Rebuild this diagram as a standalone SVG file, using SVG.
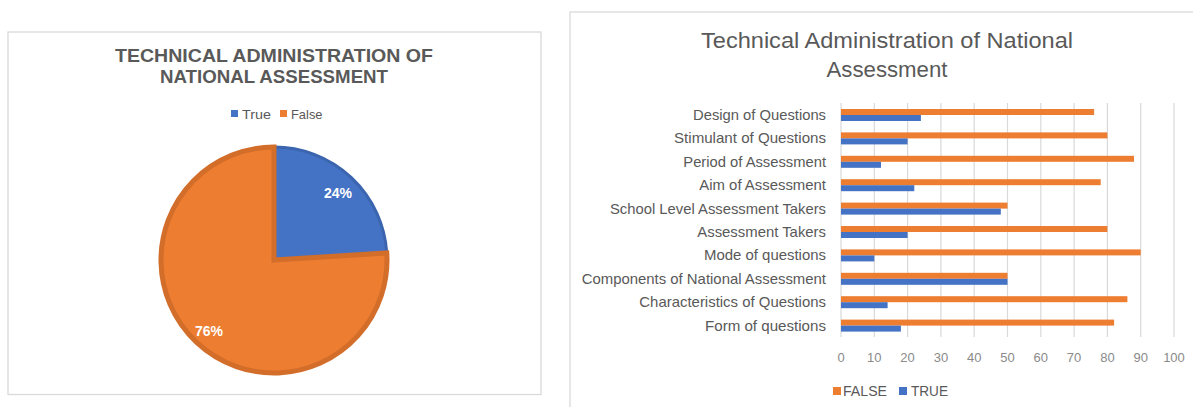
<svg xmlns="http://www.w3.org/2000/svg" width="1193" height="407" viewBox="0 0 1193 407">
<style>
  .frame { fill: #ffffff; stroke: #d9d9d9; stroke-width: 1.3; }
  .ttl { font-family: "Liberation Sans", Arial, sans-serif; fill: #595959; }
  .ttlb { font-family: "Liberation Sans", Arial, sans-serif; font-weight: bold; fill: #595959; font-size: 18px; }
  .lbl { font-family: "Liberation Sans", Arial, sans-serif; fill: #595959; font-size: 14.5px; text-anchor: end; }
  .tick { font-family: "Liberation Sans", Arial, sans-serif; fill: #8a8a8a; font-size: 13px; text-anchor: middle; }
  .leg { font-family: "Liberation Sans", Arial, sans-serif; fill: #595959; }
  .pct { font-family: "Liberation Sans", Arial, sans-serif; font-weight: bold; fill: #ffffff; font-size: 14px; text-anchor: middle; }
  .grid { stroke: #d9d9d9; stroke-width: 1.2; }
  .f { fill: #ED7D31; }
  .t { fill: #4472C4; }
</style>
<rect width="1193" height="407" fill="#ffffff"/>

<g id="pie-chart">
  <rect class="frame" x="8" y="32" width="533" height="362.5"/>
  <text class="ttlb" x="274" y="62" text-anchor="middle" textLength="318" lengthAdjust="spacingAndGlyphs">TECHNICAL ADMINISTRATION OF</text>
  <text class="ttlb" x="274" y="83" text-anchor="middle" textLength="228" lengthAdjust="spacingAndGlyphs">NATIONAL ASSESSMENT</text>
  <g id="pie-legend">
    <rect class="t" x="231" y="110" width="7" height="7"/>
    <text class="leg" x="242" y="118.5" font-size="13.5" textLength="29" lengthAdjust="spacingAndGlyphs">True</text>
    <rect class="f" x="280" y="110" width="7" height="7"/>
    <text class="leg" x="291" y="118.5" font-size="13.5" textLength="31.5" lengthAdjust="spacingAndGlyphs">False</text>
  </g>
  <g id="slice-true">
    <path class="t" d="M274,260 L274,147 A113,113 0 0 1 386.78,252.91 Z" stroke="#3B65AE" stroke-width="3" stroke-linejoin="miter"/>
    <text class="pct" x="338" y="198">24%</text>
  </g>
  <g id="slice-false">
    <path class="f" d="M274,260 L386.78,252.91 A113,113 0 1 1 274,147 Z" stroke="#D26D2A" stroke-width="5" stroke-linejoin="miter"/>
    <text class="pct" x="209" y="336">76%</text>
  </g>
</g>

<g id="bar-chart">
  <rect class="frame" x="570" y="12" width="640" height="420"/>
  <text class="ttl" x="887" y="48" font-size="22" text-anchor="middle" textLength="372" lengthAdjust="spacingAndGlyphs">Technical Administration of National</text>
  <text class="ttl" x="887" y="77" font-size="22" text-anchor="middle" textLength="121" lengthAdjust="spacingAndGlyphs">Assessment</text>

  <g id="gridlines">
    <line class="grid" x1="841" y1="103" x2="841" y2="337"/>
    <line class="grid" x1="874.3" y1="103" x2="874.3" y2="337"/>
    <line class="grid" x1="907.6" y1="103" x2="907.6" y2="337"/>
    <line class="grid" x1="940.9" y1="103" x2="940.9" y2="337"/>
    <line class="grid" x1="974.2" y1="103" x2="974.2" y2="337"/>
    <line class="grid" x1="1007.5" y1="103" x2="1007.5" y2="337"/>
    <line class="grid" x1="1040.8" y1="103" x2="1040.8" y2="337"/>
    <line class="grid" x1="1074.1" y1="103" x2="1074.1" y2="337"/>
    <line class="grid" x1="1107.4" y1="103" x2="1107.4" y2="337"/>
    <line class="grid" x1="1140.7" y1="103" x2="1140.7" y2="337"/>
    <line class="grid" x1="1174" y1="103" x2="1174" y2="337"/>
  </g>

  <g id="tick-labels">
    <text class="tick" x="841" y="362">0</text>
    <text class="tick" x="874.3" y="362">10</text>
    <text class="tick" x="907.6" y="362">20</text>
    <text class="tick" x="940.9" y="362">30</text>
    <text class="tick" x="974.2" y="362">40</text>
    <text class="tick" x="1007.5" y="362">50</text>
    <text class="tick" x="1040.8" y="362">60</text>
    <text class="tick" x="1074.1" y="362">70</text>
    <text class="tick" x="1107.4" y="362">80</text>
    <text class="tick" x="1140.7" y="362">90</text>
    <text class="tick" x="1174" y="362">100</text>
  </g>

  <g id="category-labels">
    <text class="lbl" x="826" y="120" textLength="133" lengthAdjust="spacingAndGlyphs">Design of Questions</text>
    <text class="lbl" x="826" y="143.4" textLength="152" lengthAdjust="spacingAndGlyphs">Stimulant of Questions</text>
    <text class="lbl" x="826" y="166.8" textLength="142.7" lengthAdjust="spacingAndGlyphs">Period of Assessment</text>
    <text class="lbl" x="826" y="190.2" textLength="126.7" lengthAdjust="spacingAndGlyphs">Aim of Assessment</text>
    <text class="lbl" x="826" y="213.6" textLength="216" lengthAdjust="spacingAndGlyphs">School Level Assessment Takers</text>
    <text class="lbl" x="826" y="237" textLength="128.7" lengthAdjust="spacingAndGlyphs">Assessment Takers</text>
    <text class="lbl" x="826" y="260.4" textLength="122" lengthAdjust="spacingAndGlyphs">Mode of questions</text>
    <text class="lbl" x="826" y="283.8" textLength="244.3" lengthAdjust="spacingAndGlyphs">Components of National Assessment</text>
    <text class="lbl" x="826" y="307.2" textLength="186.7" lengthAdjust="spacingAndGlyphs">Characteristics of Questions</text>
    <text class="lbl" x="826" y="330.6" textLength="121" lengthAdjust="spacingAndGlyphs">Form of questions</text>
  </g>

  <g id="bars-false">
    <rect class="f" x="841" y="109" width="253.1" height="6"/>
    <rect class="f" x="841" y="132.4" width="266.4" height="6"/>
    <rect class="f" x="841" y="155.8" width="293" height="6"/>
    <rect class="f" x="841" y="179.2" width="259.7" height="6"/>
    <rect class="f" x="841" y="202.6" width="166.5" height="6"/>
    <rect class="f" x="841" y="226" width="266.4" height="6"/>
    <rect class="f" x="841" y="249.4" width="299.7" height="6"/>
    <rect class="f" x="841" y="272.8" width="166.5" height="6"/>
    <rect class="f" x="841" y="296.2" width="286.4" height="6"/>
    <rect class="f" x="841" y="319.6" width="273.1" height="6"/>
  </g>
  <g id="bars-true">
    <rect class="t" x="841" y="115" width="79.9" height="6"/>
    <rect class="t" x="841" y="138.4" width="66.6" height="6"/>
    <rect class="t" x="841" y="161.8" width="40" height="6"/>
    <rect class="t" x="841" y="185.2" width="73.3" height="6"/>
    <rect class="t" x="841" y="208.6" width="159.8" height="6"/>
    <rect class="t" x="841" y="232" width="66.6" height="6"/>
    <rect class="t" x="841" y="255.4" width="33.3" height="6"/>
    <rect class="t" x="841" y="278.8" width="166.5" height="6"/>
    <rect class="t" x="841" y="302.2" width="46.6" height="6"/>
    <rect class="t" x="841" y="325.6" width="59.9" height="6"/>
  </g>

  <g id="bar-legend">
    <rect class="f" x="833" y="387" width="8" height="8"/>
    <text class="leg" x="843" y="396" font-size="14" textLength="44" lengthAdjust="spacingAndGlyphs">FALSE</text>
    <rect class="t" x="899" y="387" width="8" height="8"/>
    <text class="leg" x="911" y="396" font-size="14" textLength="37" lengthAdjust="spacingAndGlyphs">TRUE</text>
  </g>
</g>
</svg>
